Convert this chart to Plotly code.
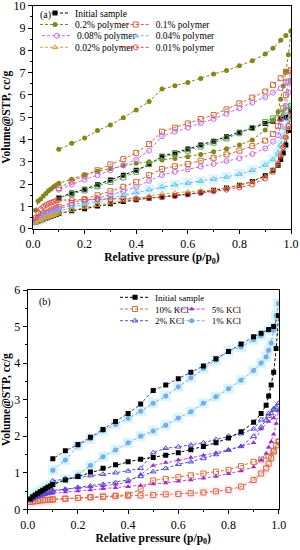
import plotly.graph_objects as go

# ---------------- data ----------------
P_ADS = [0.01, 0.02, 0.03, 0.04, 0.05, 0.06, 0.07, 0.08, 0.09, 0.10,
         0.15, 0.20, 0.25, 0.30, 0.35, 0.40, 0.45, 0.50, 0.55, 0.60, 0.65,
         0.70, 0.75, 0.80, 0.85, 0.90, 0.93, 0.95, 0.96, 0.97, 0.98, 0.99, 1.00]
P_DES = [1.00, 0.98, 0.96, 0.93, 0.90, 0.85, 0.80, 0.75, 0.70, 0.65, 0.60,
         0.55, 0.50, 0.45, 0.40, 0.35, 0.30, 0.25, 0.20, 0.15, 0.10]

# Initial sample (same in both panels)
INIT_ADS = [0.28, 0.34, 0.39, 0.44, 0.48, 0.52, 0.56, 0.60, 0.64, 0.68,
            0.80, 0.90, 1.02, 1.12, 1.22, 1.30, 1.37, 1.42, 1.48, 1.55, 1.63,
            1.72, 1.82, 1.95, 2.12, 2.38, 2.62, 2.85, 3.10, 3.40, 3.75, 4.40, 5.30]
INIT_DES = [5.30, 5.00, 4.92, 4.82, 4.72, 4.52, 4.32, 4.12, 3.92, 3.75, 3.57,
            3.40, 3.25, 2.88, 2.62, 2.40, 2.18, 1.97, 1.77, 1.60, 1.38]

# Panel (a) polymer series
POLY02_ADS = [0.83, 1.24, 1.33, 1.47, 1.58, 1.70, 1.78, 1.88, 1.96, 2.04,
              2.22, 2.42, 2.58, 2.70, 2.82, 2.93, 3.00, 3.08, 3.15, 3.23, 3.33,
              3.45, 3.58, 3.75, 3.98, 4.43, 4.85, 5.25, 5.80, 6.40, 7.05, 7.80, 8.85]
POLY02_DES = [8.88, 8.66, 8.45, 8.09, 7.83, 7.53, 7.31, 7.09, 6.94, 6.74, 6.56,
              6.41, 6.26, 5.70, 5.32, 4.98, 4.65, 4.40, 4.07, 3.83, 3.56]
POLY01_ADS = [0.38, 0.48, 0.56, 0.63, 0.70, 0.76, 0.82, 0.87, 0.92, 0.97,
              1.15, 1.32, 1.50, 1.68, 1.88, 2.10, 2.40, 2.68, 2.80, 2.90, 3.05,
              3.18, 3.33, 3.50, 3.70, 3.95, 4.25, 4.60, 4.95, 5.40, 6.00, 6.60, 7.10]
POLY01_DES = [7.10, 7.04, 6.75, 6.45, 6.15, 5.88, 5.62, 5.35, 5.10, 4.92, 4.72,
              4.53, 4.35, 3.80, 3.40, 3.12, 2.88, 2.62, 2.38, 2.12, 1.82]
POLY008_ADS = [0.35, 0.45, 0.53, 0.60, 0.66, 0.72, 0.77, 0.82, 0.86, 0.90,
               1.05, 1.20, 1.35, 1.50, 1.68, 1.88, 2.15, 2.41, 2.55, 2.66, 2.78,
               2.90, 3.03, 3.16, 3.35, 3.60, 3.90, 4.20, 4.60, 5.00, 5.50, 6.10, 6.65]
POLY008_DES = [6.65, 6.55, 6.30, 6.10, 5.90, 5.65, 5.40, 5.15, 4.92, 4.73, 4.53,
               4.35, 4.15, 3.50, 3.10, 2.85, 2.62, 2.40, 2.20, 1.98, 1.75]
POLY004_ADS = [0.30, 0.38, 0.45, 0.51, 0.57, 0.62, 0.67, 0.71, 0.75, 0.79,
               0.95, 1.10, 1.25, 1.38, 1.50, 1.62, 1.75, 1.88, 1.97, 2.05, 2.13,
               2.22, 2.32, 2.45, 2.62, 2.86, 3.10, 3.40, 3.75, 4.10, 4.50, 4.90, 5.50]
POLY004_DES = [5.50, 5.30, 5.15, 4.95, 4.78, 4.52, 4.28, 4.05, 3.86, 3.68, 3.50,
               3.35, 3.20, 2.90, 2.55, 2.30, 2.10, 1.90, 1.72, 1.55, 1.38]
POLY002_ADS = [0.25, 0.32, 0.38, 0.43, 0.48, 0.52, 0.56, 0.60, 0.64, 0.68,
               0.82, 0.95, 1.06, 1.16, 1.26, 1.35, 1.45, 1.56, 1.61, 1.66, 1.70,
               1.75, 1.84, 1.96, 2.10, 2.33, 2.65, 2.95, 3.30, 3.70, 4.10, 4.50, 5.00]
POLY001_ADS = [0.50, 0.72, 0.88, 0.98, 1.06, 1.12, 1.17, 1.21, 1.25, 1.28,
               1.29, 1.30, 1.31, 1.32, 1.33, 1.35, 1.38, 1.42, 1.47, 1.53, 1.60,
               1.67, 1.75, 1.85, 1.98, 2.25, 2.55, 2.90, 3.25, 3.65, 4.10, 4.60, 5.20]

# Panel (b) KCl series
KCL10_ADS = [0.20, 0.21, 0.22, 0.23, 0.24, 0.25, 0.25, 0.26, 0.26, 0.27,
             0.29, 0.31, 0.33, 0.34, 0.36, 0.37, 0.38, 0.39, 0.41, 0.42, 0.44,
             0.46, 0.49, 0.53, 0.62, 0.80, 0.98, 1.12, 1.25, 1.40, 1.58, 1.75, 1.85]
KCL10_DES = [1.85, 1.60, 1.45, 1.36, 1.30, 1.18, 1.08, 1.03, 0.98, 0.93, 0.88,
             0.83, 0.79, 0.55, 0.40, 0.37, 0.35, 0.33, 0.31, 0.29, 0.27]
KCL5_ADS = [0.22, 0.26, 0.30, 0.33, 0.36, 0.38, 0.40, 0.42, 0.43, 0.44,
            0.47, 0.50, 0.53, 0.56, 0.59, 0.62, 0.65, 0.69, 0.72, 0.77, 0.80,
            0.85, 0.90, 0.97, 1.05, 1.16, 1.35, 1.53, 1.70, 1.85, 2.05, 2.35, 2.70]
KCL5_DES = [2.70, 2.50, 2.40, 2.20, 1.82, 1.72, 1.63, 1.55, 1.48, 1.42, 1.35,
            1.28, 1.20, 0.95, 0.75, 0.68, 0.64, 0.61, 0.58, 0.55, 0.52]
KCL2_ADS = [0.25, 0.30, 0.34, 0.37, 0.40, 0.42, 0.44, 0.46, 0.48, 0.50,
            0.55, 0.60, 0.64, 0.68, 0.73, 0.80, 0.90, 1.03, 1.12, 1.23, 1.30,
            1.39, 1.50, 1.62, 1.72, 2.00, 2.25, 2.44, 2.55, 2.62, 2.72, 2.80, 2.90]
KCL2_DES = [2.90, 2.75, 2.62, 2.45, 2.20, 2.07, 2.00, 1.91, 1.82, 1.76, 1.71,
            1.67, 1.55, 1.12, 1.05, 1.00, 0.96, 0.92, 0.88, 0.84, 0.78]
KCL1_ADS = [0.27, 0.33, 0.38, 0.43, 0.48, 0.53, 0.57, 0.61, 0.65, 0.70,
            0.82, 0.94, 1.20, 1.44, 1.62, 1.82, 2.00, 2.14, 2.30, 2.50, 2.67,
            2.90, 3.08, 3.30, 3.53, 3.80, 4.00, 4.17, 4.35, 4.55, 4.90, 5.30, 5.63]
KCL1_DES = [5.63, 5.00, 4.90, 4.75, 4.64, 4.44, 4.33, 4.08, 3.85, 3.60, 3.35,
            3.10, 2.90, 2.68, 2.49, 2.32, 2.15, 1.93, 1.73, 1.35, 1.07]

LABEL_A = ["Initial sample", "0.2% polymer", "0.1% polymer", "0.08% polymer",
           "0.04% polymer", "0.02% polymer", "0.01% polymer"]
LABEL_B = ["Initial sample", "10% KCl", "5% KCl", "2% KCl", "1% KCl"]

X_TITLE = "Relative pressure (p/p<sub>0</sub>)"
Y_TITLE = "Volume@STP, cc/g"

# ---------------- figure ----------------
W, H = 300, 550
FONT = "Liberation Serif"
DASH = "3px,2px"

fig = go.Figure()


def halo(xa, ya, p, v, color):
    fig.add_trace(go.Scatter(x=p, y=v, xaxis=xa, yaxis=ya, mode="markers",
                             marker=dict(symbol="square", size=10, color=color),
                             showlegend=False, hoverinfo="skip"))


def series(xa, ya, p, v, name, color, symbol, legend="legend", show=False,
           line_color=None, size=5):
    filled = not symbol.endswith("-open")
    fig.add_trace(go.Scatter(
        x=p, y=v, xaxis=xa, yaxis=ya, mode="lines+markers", name=name,
        line=dict(color=line_color or color, width=1, dash=DASH),
        marker=dict(symbol=symbol, size=size, color=color,
                    line=dict(color=color, width=0 if filled else 1)),
        showlegend=show, legend=legend))


C_INIT = "#000000"
C_02 = "#85851a"
C_01 = "#cc6a3c"
C_008 = "#c46be0"
C_004 = "#6fb8e0"
C_004D = "#5fa05a"
C_002 = "#e0a23a"
C_001 = "#e04848"

# halos (light backgrounds seen behind some markers)
halo("x", "y", P_ADS, POLY004_ADS, "rgba(200,244,250,0.7)")
halo("x2", "y2", P_ADS, KCL1_ADS, "rgba(200,244,250,0.8)")
halo("x2", "y2", P_DES, KCL1_DES, "rgba(200,244,250,0.8)")
halo("x2", "y2", P_ADS, KCL10_ADS, "rgba(255,220,240,0.6)")

# panel (a)
series("x", "y", P_ADS, INIT_ADS, LABEL_A[0], C_INIT, "square", "legend", True)
series("x", "y", P_DES, INIT_DES, LABEL_A[0], C_INIT, "square")
series("x", "y", P_ADS, POLY02_ADS, LABEL_A[1], C_02, "circle", "legend2", True)
series("x", "y", P_DES, POLY02_DES, LABEL_A[1], C_02, "circle")
series("x", "y", P_ADS, POLY01_ADS, LABEL_A[2], C_01, "square-open", "legend3", True)
series("x", "y", P_DES, POLY01_DES, LABEL_A[2], C_01, "square-open")
series("x", "y", P_ADS, POLY008_ADS, LABEL_A[3], C_008, "circle-open", "legend4", True)
series("x", "y", P_DES, POLY008_DES, LABEL_A[3], C_008, "circle-open")
series("x", "y", P_ADS, POLY004_ADS, LABEL_A[4], C_004, "triangle-up-open", "legend5", True)
series("x", "y", P_DES, POLY004_DES, LABEL_A[4], C_004D, "square-open")
series("x", "y", P_ADS, POLY002_ADS, LABEL_A[5], C_002, "triangle-up-open", "legend6", True)
series("x", "y", P_ADS, POLY001_ADS, LABEL_A[6], C_001, "circle-open", "legend7", True)

# panel (b)
C_10 = "#d0703c"
C_5 = "#9a2fd0"
C_5L = "#d040c8"
C_2 = "#5050d0"
C_1 = "#7fa8e6"
series("x2", "y2", P_ADS, KCL10_ADS, LABEL_B[1], C_10, "square-open", "legend9", True)
series("x2", "y2", P_DES, KCL10_DES, LABEL_B[1], C_10, "square-open")
series("x2", "y2", P_ADS, KCL5_ADS, LABEL_B[2], C_5, "triangle-up", "legend10", True, C_5L)
series("x2", "y2", P_DES, KCL5_DES, LABEL_B[2], C_5, "triangle-up", line_color=C_5L)
series("x2", "y2", P_ADS, KCL2_ADS, LABEL_B[3], C_2, "triangle-up-open", "legend11", True)
series("x2", "y2", P_DES, KCL2_DES, LABEL_B[3], C_2, "triangle-up-open")
series("x2", "y2", P_ADS, KCL1_ADS, LABEL_B[4], C_1, "circle", "legend12", True)
series("x2", "y2", P_DES, KCL1_DES, LABEL_B[4], C_1, "circle")
series("x2", "y2", P_ADS, INIT_ADS, LABEL_B[0], C_INIT, "square", "legend8", True)
series("x2", "y2", P_DES, INIT_DES, LABEL_B[0], C_INIT, "square", line_color="#4040b8")

# ---------------- layout ----------------
def ax_common():
    return dict(showline=True, linecolor="black", linewidth=1, mirror=True,
                ticks="outside", ticklen=4, tickwidth=1, tickcolor="black",
                showgrid=False, zeroline=False, automargin=False,
                ticklabeloverflow="allow",
                tickfont=dict(family=FONT, size=12, color="black"))


TFONT = dict(family=FONT, size=11.5, color="black", weight="bold")

xa = ax_common()
xa.update(domain=[33 / W, 291 / W], range=[0, 1], dtick=0.2, tick0=0,
          tickformat=".1f", anchor="y",
          minor=dict(dtick=0.1, ticks="outside", ticklen=2, tickcolor="black"),
          title=dict(text=X_TITLE, standoff=2, font=TFONT))
ya = ax_common()
ya.update(domain=[1 - 228.7 / H, 1 - 5.7 / H], range=[0, 10], dtick=1, anchor="x",
          minor=dict(dtick=0.5, ticks="outside", ticklen=2, tickcolor="black"),
          title=dict(text=Y_TITLE, standoff=1, font=TFONT))
xb = ax_common()
xb.update(domain=[27.7 / W, 278.7 / W], range=[0, 1], dtick=0.2, tick0=0,
          tickformat=".1f", anchor="y2",
          minor=dict(dtick=0.1, ticks="outside", ticklen=2, tickcolor="black"),
          title=dict(text=X_TITLE, standoff=1, font=TFONT))
yb = ax_common()
yb.update(domain=[1 - 509.3 / H, 1 - 290 / H], range=[0, 6], dtick=1, anchor="x2",
          minor=dict(dtick=0.5, ticks="outside", ticklen=2, tickcolor="black"),
          title=dict(text=Y_TITLE, standoff=1, font=TFONT))

layout = dict(width=W, height=H,
              margin=dict(l=0, r=0, t=0, b=0, autoexpand=False),
              paper_bgcolor="white", plot_bgcolor="white",
              xaxis=xa, yaxis=ya, xaxis2=xb, yaxis2=yb,
              font=dict(family=FONT, color="black"))

# one legend per entry, placed at (text start x, row centre y, font size) in pixels
LEG_POS = {
    "legend": (75, 13, 9.5), "legend2": (75, 24.5, 9.5), "legend3": (155.7, 24.5, 9.5),
    "legend4": (77, 35.7, 9.5), "legend5": (155.7, 35.7, 9.5), "legend6": (75, 47.3, 9.5),
    "legend7": (155.7, 47.3, 9.5),
    "legend8": (155, 297.3, 9), "legend9": (155, 309, 9), "legend10": (211.7, 309, 9),
    "legend11": (155, 320.7, 9), "legend12": (211.7, 320.7, 9),
}
TEXT_OFFSET = 40
for key, (tx, ty, fs) in LEG_POS.items():
    layout[key] = dict(x=(tx - TEXT_OFFSET) / W, y=1 - ty / H, xanchor="left",
                       yanchor="middle", bgcolor="rgba(0,0,0,0)", borderwidth=0,
                       itemwidth=30, font=dict(family=FONT, size=fs, color="black"))

layout["annotations"] = [
    dict(text="(a)", x=39 / W, y=1 - 15 / H, xref="paper", yref="paper",
         xanchor="left", yanchor="middle", showarrow=False, bgcolor="white",
         borderpad=0, font=dict(family=FONT, size=10, color="black")),
    dict(text="(b)", x=37 / W, y=1 - 302 / H, xref="paper", yref="paper",
         xanchor="left", yanchor="middle", showarrow=False,
         font=dict(family=FONT, size=10, color="black")),
]

fig.update_layout(**layout)
fig.write_html("out.html", config={"displayModeBar": False},
               post_script="document.body.style.margin='0px';"
                           "document.body.style.padding='0px';")
